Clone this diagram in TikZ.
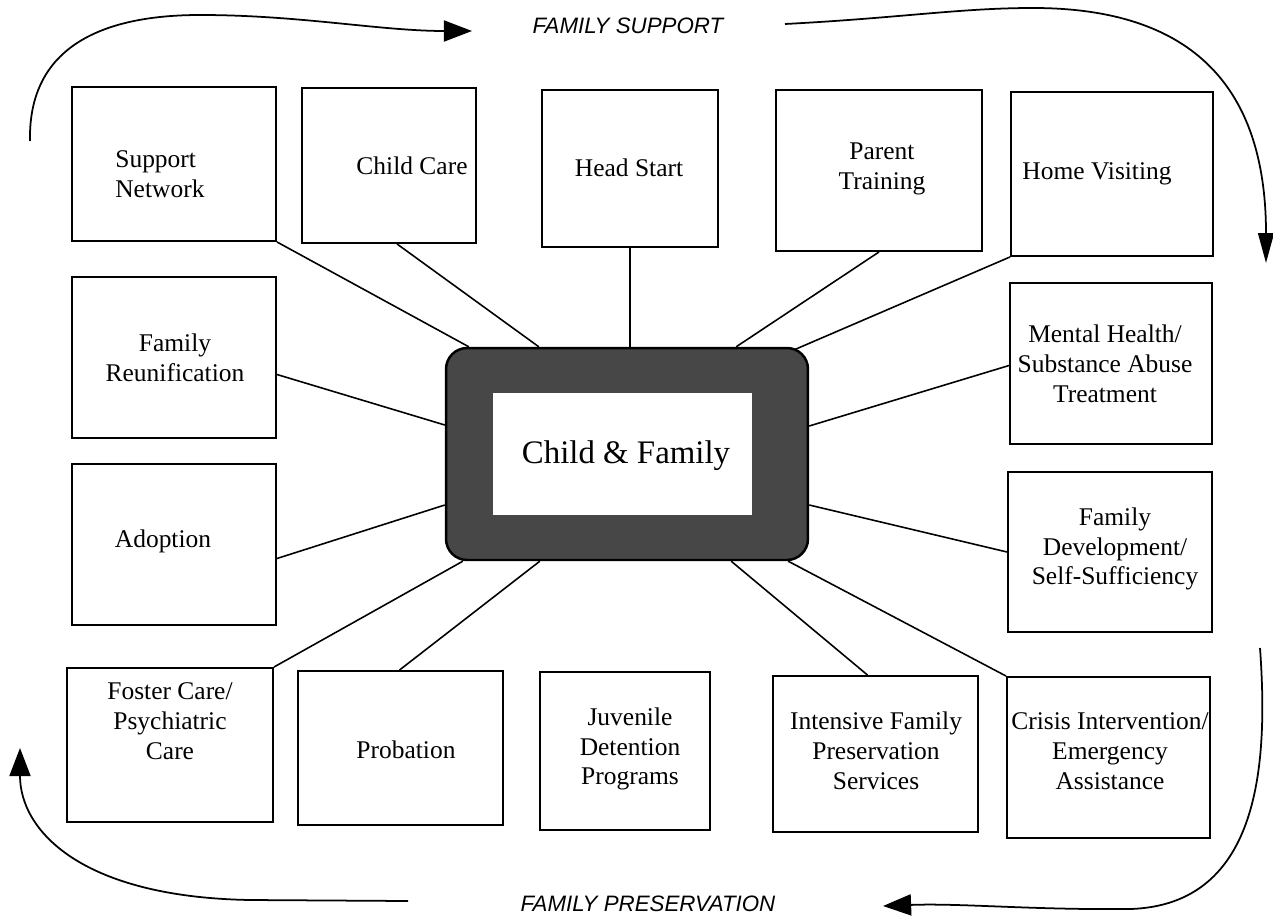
\documentclass[tikz,border=0pt]{standalone}
\usepackage{fontspec}
\setmainfont{Liberation Serif}
\newfontfamily\flowfont{Liberation Sans}
\usetikzlibrary{fit,calc,arrows.meta,backgrounds}

\tikzset{
  svcbox/.style={draw, line width=1.1pt, inner sep=0pt, rectangle},
  svctext/.style={font=\fontsize{14.5}{17}\selectfont, align=center, inner sep=0pt},
  link/.style={line width=0.9pt},
  flow/.style={line width=1pt, -{Triangle[length=16pt,width=12pt]}},
  flowtext/.style={font=\flowfont\itshape\fontsize{12.7}{15}\selectfont, inner sep=0pt},
  hubouter/.style={draw, line width=1.4pt, fill=black!72, rounded corners=0.42cm,
    minimum width=7.24cm, minimum height=4.24cm, inner sep=0pt},
  hubinner/.style={fill=white, minimum width=5.18cm, minimum height=2.44cm, inner sep=0pt}
}

\begin{document}
\begin{tikzpicture}[x=0.02cm, y=-0.02cm]
\useasboundingbox (0,0) rectangle (1273,922);

% central hub
\node[hubouter] (hub) at (627,454) {};
\node[hubinner] (core) at (622.5,454) {};
\node[font=\fontsize{18.7}{22}\selectfont, inner sep=0pt] (corelabel) at (626,456) {Child \& Family};

% service boxes
\node[svcbox, fit={(72,87) (276,241)}] (sn) {};
\node[svcbox, fit={(302,88) (476,243)}] (cc) {};
\node[svcbox, fit={(542,90) (718,247)}] (hs) {};
\node[svcbox, fit={(776,90) (982,251)}] (pt) {};
\node[svcbox, fit={(1011,92) (1213,256)}] (hv) {};
\node[svcbox, fit={(72,277) (276,438)}] (fr) {};
\node[svcbox, fit={(1010,283) (1212,444)}] (mh) {};
\node[svcbox, fit={(72,464) (276,625)}] (ad) {};
\node[svcbox, fit={(1008,472) (1212,632)}] (fd) {};
\node[svcbox, fit={(67,668) (273,822)}] (fc) {};
\node[svcbox, fit={(298,671) (503,825)}] (pr) {};
\node[svcbox, fit={(540,672) (710,830)}] (jd) {};
\node[svcbox, fit={(773,676) (978,832)}] (ifp) {};
\node[svcbox, fit={(1007,677) (1210,838)}] (ci) {};

% box labels
\node[svctext, align=left, anchor=west] (snt) at (115,174) {Support\\Network};
\node[svctext] (cct) at (412,166) {Child Care};
\node[svctext] (hst) at (629,168) {Head Start};
\node[svctext] (ptt) at (882,169) {Parent\\Training};
\node[svctext] (hvt) at (1097,174) {Home Visiting};
\node[svctext] (frt) at (175,358) {Family\\Reunification};
\node[svctext] (mht) at (1105,364) {Mental Health/\\Substance Abuse\\Treatment};
\node[svctext] (adt) at (163,541) {Adoption};
\node[svctext] (fdt) at (1115,549) {Family\\Development/\\Self-Sufficiency};
\node[svctext] (fct) at (170,721) {Foster Care/\\Psychiatric\\Care};
\node[svctext] (prt) at (406,750) {Probation};
\node[svctext] (jdt) at (630,749) {Juvenile\\Detention\\Programs};
\node[svctext] (ift) at (876,751) {Intensive Family\\Preservation\\Services};
\node[svctext] (cit) at (1110,751) {Crisis Intervention/\\Emergency\\Assistance};

% spokes from the boxes to the hub
\begin{scope}[on background layer]
\draw[link] (sn.south east) -- ($(hub.north west)+(24,0)$);
\draw[link] ($(cc.south)+(8,0)$) -- ($(hub.north west)+(94,0)$);
\draw[link] (hs.south) -- (hs.south |- hub.north);
\draw[link] (pt.south) -- ($(hub.north east)+(-73,0)$);
\draw[link] (hv.south west) -- ($(hub.north east)+(-15,3)$);
\draw[link] ($(fr.east)+(0,17)$) -- ($(hub.west)+(0,-29)$);
\draw[link] ($(mh.west)+(0,2)$) -- ($(hub.east)+(0,-28)$);
\draw[link] ($(ad.east)+(0,14)$) -- ($(hub.west)+(0,51)$);
\draw[link] (fd.west) -- ($(hub.east)+(0,51)$);
\draw[link] (fc.north east) -- ($(hub.south west)+(18,0)$);
\draw[link] ($(pr.north)+(-1,0)$) -- ($(hub.south west)+(95,0)$);
\draw[link] ($(jd.north)+(9,0)$) -- ($(jd.north)+(9,0)$ |- hub.south);
\draw[link] ($(ifp.north)+(-8,0)$) -- ($(hub.south east)+(-78,0)$);
\draw[link] (ci.north west) -- ($(hub.south east)+(-21,0)$);
\end{scope}

% circulating flow arrows
\node[flowtext] (support) at (628,26) {FAMILY SUPPORT};
\node[flowtext] (preserve) at (648,904) {FAMILY PRESERVATION};

\coordinate (a1s) at (30,141);
\coordinate (a1e) at (472,31);
\coordinate (a2s) at (785,24);
\coordinate (a2e) at (1266,263);
\coordinate (a3s) at (1260,648);
\coordinate (a3e) at (883,906);
\coordinate (a4s) at (408,901);
\coordinate (a4e) at (20,748);

\draw[flow] (a1s) .. controls (28,45) and (105,15) .. (200,15)
  .. controls (300,15) and (380,31) .. (a1e);
\draw[flow, -{Triangle[length=17pt,width=9pt]}] (a2s) .. controls (900,18) and (960,8) .. (1033,8)
  .. controls (1205,8) and (1266,100) .. (a2e);
\draw[flow] (a3s) .. controls (1268,760) and (1262,905) .. (1130,909)
  .. controls (1030,910) and (960,903) .. (a3e);
\draw[flow] (a4s) -- (250,900) .. controls (80,897) and (20,830) .. (a4e);
\end{tikzpicture}
\end{document}
